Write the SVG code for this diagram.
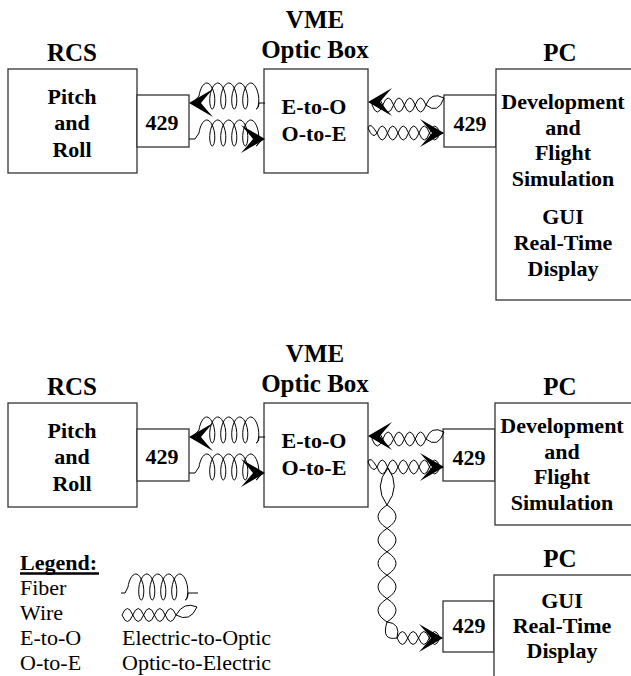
<svg xmlns="http://www.w3.org/2000/svg" width="631" height="676" viewBox="0 0 631 676">
<style>
.t{font-family:"Liberation Serif","Times New Roman",serif;font-weight:bold;text-anchor:middle;fill:#000}
.ti{font-size:25px}
.bd{font-size:22px}
.lg{font-family:"Liberation Serif","Times New Roman",serif;font-size:22px;fill:#000}
.box{fill:#fff;stroke:#333;stroke-width:1.3}
.ln{fill:none;stroke:#000;stroke-width:1}
.ah{fill:#000;stroke:none}
</style>
<defs>
<path id="coil" class="ln" d="M0,0 c0.92,-6.81 4.22,-13 7.75,-13 c3.53,0 6.83,6.19 7.75,13 c0.92,6.81 -0.55,13 -2.25,13
 c-1.70,0 -3.17,-6.19 -2.25,-13 c0.92,-6.81 4.22,-13 7.75,-13 c3.53,0 6.83,6.19 7.75,13 c0.92,6.81 -0.55,13 -2.25,13
 c-1.70,0 -3.17,-6.19 -2.25,-13 c0.92,-6.81 4.22,-13 7.75,-13 c3.53,0 6.83,6.19 7.75,13 c0.92,6.81 -0.55,13 -2.25,13
 c-1.70,0 -3.17,-6.19 -2.25,-13 c0.92,-6.81 4.22,-13 7.75,-13 c3.53,0 6.83,6.19 7.75,13 c0.92,6.81 -0.55,13 -2.25,13
 c-1.70,0 -3.17,-6.19 -2.25,-13 c0.92,-6.81 4.22,-13 7.75,-13 c3.53,0 6.83,6.19 7.75,13 c0.92,6.81 -0.55,13 -2.25,13"/>
<path id="ah" class="ah" d="M0,0 L-24,-14 Q-16,-5 -12,0 Q-16,5 -24,14 Z"/>
<g id="fibers">
<path class="ln" d="M193,103 L199,96"/>
<use href="#coil" x="199" y="96"/>
<path class="ln" d="M256.25,109 Q259,108 259,103 H265"/>
<use href="#ah" transform="translate(189,103) rotate(180)"/>
<path class="ln" d="M189,139 H195 L199,133"/>
<use href="#coil" x="199" y="133"/>
<path class="ln" d="M256.25,146 L263,139"/>
<use href="#ah" transform="translate(265,139)"/>
</g>
<g id="wires">
<path class="ln" d="M372,105 q5.4,-14 10.8,0 t10.8,0 t10.8,0 t10.8,0 t10.8,0 q12,10 18,-7"/>
<path class="ln" d="M372,105 q5.4,14 10.8,0 t10.8,0 t10.8,0 t10.8,0 t10.8,0 q5,-14 18,-7"/>
<use href="#ah" transform="translate(368,102) rotate(180)"/>
<path class="ln" d="M368,128 Q370,121 377,133 q5.25,14 10.5,0 t10.5,0 t10.5,0 t10.5,0 t10.5,0 t10.5,0 L443,133"/>
<path class="ln" d="M368,128 Q373,140 377,133 q5.25,-14 10.5,0 t10.5,0 t10.5,0 t10.5,0 t10.5,0 t10.5,0 L443,133"/>
<use href="#ah" transform="translate(444,133)"/>
</g>
</defs>
<rect width="631" height="676" fill="#fff"/>

<g id="top-rcs">
<text class="t ti" x="72" y="61">RCS</text>
<rect class="box" x="8" y="69" width="129" height="104"/>
<text class="t bd" x="72" y="104">Pitch</text>
<text class="t bd" x="72" y="130">and</text>
<text class="t bd" x="72" y="157">Roll</text>
</g>
<g id="top-rcs-429">
<rect class="box" x="137" y="95" width="52" height="52"/>
<text class="t bd" x="162" y="130">429</text>
</g>
<g id="top-vme">
<text class="t ti" x="315" y="28">VME</text>
<text class="t ti" x="315" y="58">Optic Box</text>
<rect class="box" x="264" y="69" width="104" height="104"/>
<text class="t bd" x="314" y="114">E-to-O</text>
<text class="t bd" x="314" y="141">O-to-E</text>
</g>
<g id="top-pc-429">
<rect class="box" x="444" y="95" width="52" height="52"/>
<text class="t bd" x="470" y="131">429</text>
</g>
<g id="top-pc">
<text class="t ti" x="560" y="61">PC</text>
<rect class="box" x="496" y="69" width="145" height="231"/>
<text class="t bd" x="563" y="109">Development</text>
<text class="t bd" x="563" y="134.5">and</text>
<text class="t bd" x="563" y="160">Flight</text>
<text class="t bd" x="563" y="185.5">Simulation</text>
<text class="t bd" x="563" y="224">GUI</text>
<text class="t bd" x="563" y="250">Real-Time</text>
<text class="t bd" x="563" y="276">Display</text>
</g>

<g id="bot-rcs">
<text class="t ti" x="72" y="395">RCS</text>
<rect class="box" x="8" y="403" width="129" height="104"/>
<text class="t bd" x="72" y="438">Pitch</text>
<text class="t bd" x="72" y="464">and</text>
<text class="t bd" x="72" y="491">Roll</text>
</g>
<g id="bot-rcs-429">
<rect class="box" x="137" y="429" width="52" height="52"/>
<text class="t bd" x="162" y="464">429</text>
</g>
<g id="bot-vme">
<text class="t ti" x="315" y="362">VME</text>
<text class="t ti" x="315" y="392">Optic Box</text>
<rect class="box" x="264" y="403" width="104" height="104"/>
<text class="t bd" x="314" y="448">E-to-O</text>
<text class="t bd" x="314" y="475">O-to-E</text>
</g>
<g id="bot-pc1-429">
<rect class="box" x="443" y="429" width="52" height="52"/>
<text class="t bd" x="469" y="465">429</text>
</g>
<g id="bot-pc1">
<text class="t ti" x="560" y="395">PC</text>
<rect class="box" x="495" y="403" width="146" height="122"/>
<text class="t bd" x="562" y="433">Development</text>
<text class="t bd" x="562" y="458.5">and</text>
<text class="t bd" x="562" y="484">Flight</text>
<text class="t bd" x="562" y="509.5">Simulation</text>
</g>
<g id="bot-pc2-429">
<rect class="box" x="443" y="601" width="51" height="51"/>
<text class="t bd" x="469" y="633">429</text>
</g>
<g id="bot-pc2">
<text class="t ti" x="560" y="567">PC</text>
<rect class="box" x="494" y="575" width="147" height="120"/>
<text class="t bd" x="562" y="608">GUI</text>
<text class="t bd" x="562" y="633">Real-Time</text>
<text class="t bd" x="562" y="658">Display</text>
</g>

<g id="connectors">
<use href="#fibers"/>
<use href="#fibers" y="334"/>
<use href="#wires"/>
<use href="#wires" y="334"/>
<path class="ln" d="M388,468 Q373,486 387,505 q18,11.7 0,23.4 t0,23.4 t0,23.4 t0,23.4 t0,23.4 Q381,641 397,638 q5.4,-13 10.75,0 t10.75,0 t10.75,0 t10.75,0 L442,638"/>
<path class="ln" d="M388,468 Q401,486 387,505 q-18,11.7 0,23.4 t0,23.4 t0,23.4 t0,23.4 t0,23.4 Q401,623 397,638 q5.4,13 10.75,0 t10.75,0 t10.75,0 t10.75,0 L442,638"/>
<use href="#ah" transform="translate(443,638)"/>
</g>

<g id="legend">
<text class="lg" x="20" y="570" font-weight="bold">Legend:</text>
<line x1="20" y1="573.5" x2="99" y2="573.5" stroke="#000" stroke-width="2.5"/>
<text class="lg" x="20" y="595">Fiber</text>
<path class="ln" d="M121,593 H125 L128,587"/>
<use href="#coil" x="128" y="587"/>
<path class="ln" d="M185.25,600 Q188,599 188,593 H198"/>
<text class="lg" x="20" y="620">Wire</text>
<path class="ln" d="M122,615 q5.4,-13 10.8,0 t10.8,0 t10.8,0 t10.8,0 t10.8,0 q14,8 21,-8"/>
<path class="ln" d="M122,615 q5.4,13 10.8,0 t10.8,0 t10.8,0 t10.8,0 t10.8,0 q8,-14 21,-8"/>
<text class="lg" x="20" y="645">E-to-O</text>
<text class="lg" x="122" y="645">Electric-to-Optic</text>
<text class="lg" x="20" y="670">O-to-E</text>
<text class="lg" x="122" y="670">Optic-to-Electric</text>
</g>
</svg>
